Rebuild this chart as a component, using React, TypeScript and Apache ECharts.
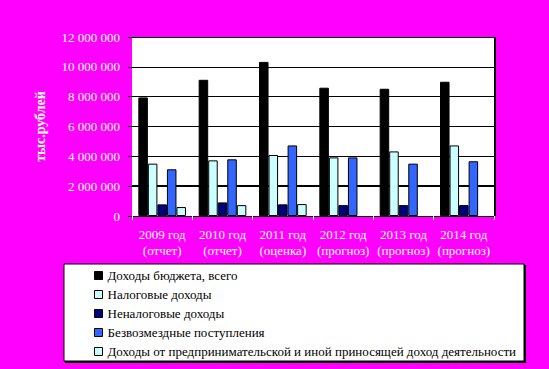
import React, { useEffect, useRef } from "react";
import * as echarts from "echarts";

const categories = [
  "2009 год\n(отчет)",
  "2010 год\n(отчет)",
  "2011 год\n(оценка)",
  "2012 год\n(прогноз)",
  "2013 год\n(прогноз)",
  "2014 год\n(прогноз)",
];
const seriesNames = [
  "Доходы бюджета, всего",
  "Налоговые доходы",
  "Неналоговые доходы",
  "Безвозмездные поступления",
  "Доходы от предпринимательской и иной приносящей доход деятельности",
];
const totalIncome = [7950000, 9130000, 10330000, 8600000, 8530000, 9000000];
const taxIncome = [3510000, 3730000, 4090000, 3930000, 4330000, 4730000];
const nonTaxIncome = [780000, 910000, 780000, 730000, 730000, 730000];
const grants = [3130000, 3800000, 4730000, 3930000, 3510000, 3670000];
const businessIncome = [600000, 730000, 800000, null, null, null];
const yTicks = [0, 2000000, 4000000, 6000000, 8000000, 10000000, 12000000];

const colors = ["#000000", "#CCFFFF", "#000080", "#3366FF", "#CCFFFF"];

const fmt = (v: number) => String(v).replace(/\B(?=(\d{3})+(?!\d))/g, " ");

export default function App() {
  const ref = useRef<HTMLDivElement>(null);
  useEffect(() => {
    if (!ref.current) return;
    const chart = echarts.init(ref.current, null, { renderer: "svg" });
    const values = [totalIncome, taxIncome, nonTaxIncome, grants, businessIncome];
    const serif = "'Liberation Serif', 'Times New Roman', serif";
    const shadowText = {
      color: "#ffffff",
      fontFamily: serif,
      fontSize: 13,
      textShadowColor: "#000000",
      textShadowOffsetX: 1,
      textShadowOffsetY: 1,
      textShadowBlur: 0,
    };
    chart.setOption({
      animation: false,
      backgroundColor: "#FF00FF",
      graphic: [
        {
          type: "rect",
          shape: { x: 65, y: 265, width: 461, height: 98 },
          style: { fill: "#000000" },
          z: 0,
        },
        {
          type: "rect",
          shape: { x: 64, y: 264, width: 460, height: 97 },
          style: { fill: "#ffffff", stroke: "#000000", lineWidth: 1 },
          z: 1,
        },
        {
          type: "rect",
          shape: { x: 494, y: 37, width: 2, height: 179 },
          style: { fill: "#000000" },
          z: 5,
        },
      ],
      grid: {
        left: 132,
        right: 55,
        top: 37,
        bottom: 153,
        show: true,
        backgroundColor: "#ffffff",
        borderWidth: 0,
        containLabel: false,
      },
      legend: {
        orient: "vertical",
        left: 94,
        top: 269,
        padding: 0,
        itemWidth: 8,
        itemHeight: 8,
        itemGap: 6,
        icon: "rect",
        z: 10,
        textStyle: { color: "#000000", fontFamily: serif, fontSize: 13, lineHeight: 13 },
        data: seriesNames.map((n, i) => ({
          name: n,
          itemStyle: { color: colors[i], borderColor: "#000000", borderWidth: 1 },
        })),
      },
      xAxis: {
        type: "category",
        data: categories,
        axisLine: { show: false },
        axisTick: { show: true, length: 4, lineStyle: { color: "#ffffff" } },
        axisLabel: { ...shadowText, margin: 10, lineHeight: 16, interval: 0 },
      },
      yAxis: {
        type: "value",
        min: 0,
        max: yTicks[yTicks.length - 1],
        interval: yTicks[1] - yTicks[0],
        name: "тыс.рублей",
        nameLocation: "middle",
        nameGap: 85,
        nameTextStyle: { color: "#ffffff", fontFamily: serif, fontSize: 14, fontWeight: "bold" },
        axisLine: { show: false },
        axisTick: { show: true, length: 4, lineStyle: { color: "#000000" } },
        axisLabel: { ...shadowText, margin: 12, formatter: (v: number) => fmt(v) },
        splitLine: { show: true, lineStyle: { color: "#000000", width: 1 } },
      },
      series: seriesNames.map((n, i) => ({
        name: n,
        type: "bar",
        data: values[i],
        barGap: "0%",
        barCategoryGap: "21%",
        itemStyle: { color: colors[i], borderColor: "#000000", borderWidth: 1 },
        ...(i === 0
          ? {
              markLine: {
                silent: true,
                symbol: "none",
                label: { show: false },
                lineStyle: { color: "#000000", width: 2, type: "solid" },
                data: [{ yAxis: yTicks[1] }],
                z: 1,
              },
            }
          : {}),
      })),
    });
    return () => chart.dispose();
  }, []);
  return (
    <div
      ref={ref}
      style={{ position: "fixed", left: 0, top: 0, width: 549, height: 369 }}
    />
  );
}
